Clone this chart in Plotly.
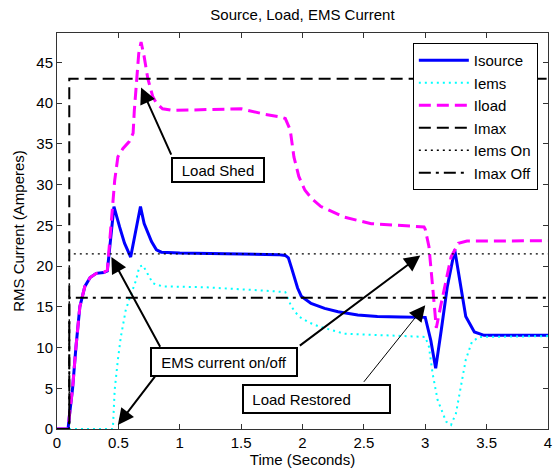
import plotly.graph_objects as go

# ---------------- data ----------------
t_source = [0, 0.09, 0.10, 0.127, 0.154, 0.186, 0.227, 0.27, 0.32, 0.38, 0.41, 0.43, 0.464,
            0.51, 0.55, 0.60, 0.63, 0.66, 0.68, 0.71, 0.77, 0.81, 0.85, 1.0, 1.5, 1.8, 1.86,
            1.885, 1.91, 1.93, 1.96, 1.99, 2.07, 2.18, 2.29, 2.45, 2.61, 2.8, 3.0, 3.045,
            3.085, 3.13, 3.18, 3.24, 3.29, 3.33, 3.40, 3.48, 3.6, 4.0]
i_source = [0, 0, 1.5, 5, 10, 15, 17.5, 18.6, 19.1, 19.2, 19.4, 22.5, 27.3,
            24.8, 22.8, 21.1, 23.6, 26.0, 27.3, 25.2, 23.0, 22.0, 21.7, 21.6, 21.5, 21.4, 21.3,
            21.0, 19.8, 18.7, 17.3, 16.3, 15.4, 14.8, 14.4, 14.0, 13.8, 13.75, 13.7, 10.9,
            7.45, 12.1, 17.5, 22.0, 17.5, 13.8, 11.9, 11.5, 11.5, 11.5]

t_ems = [0, 0.455, 0.47, 0.483, 0.496, 0.52, 0.56, 0.60, 0.645, 0.67, 0.70, 0.74, 0.78,
         0.86, 1.2, 1.67, 1.86, 1.91, 1.97, 2.05, 2.13, 2.34, 2.61, 2.8, 3.0, 3.03, 3.06,
         3.10, 3.17, 3.21, 3.25, 3.29, 3.33, 3.38, 3.44, 4.0]
i_ems = [0, 0, 4.8, 7.2, 8.5, 11.3, 14.6, 16.4, 18.3, 19.9, 20.1, 19.0, 17.9,
         17.5, 17.4, 17.0, 16.8, 15.0, 13.8, 13.1, 12.6, 11.7, 11.5, 11.4, 11.3, 10.1, 6.8,
         3.6, 0.9, 0.5, 1.9, 5.2, 8.5, 10.7, 11.3, 11.4]

t_load = [0, 0.09, 0.10, 0.127, 0.154, 0.186, 0.227, 0.27, 0.32, 0.38, 0.41, 0.43, 0.447,
          0.47, 0.496, 0.536, 0.59, 0.62, 0.63, 0.645, 0.666, 0.685, 0.71, 0.74, 0.78, 0.81,
          0.86, 0.94, 1.2, 1.5, 1.70, 1.82, 1.86, 1.90, 1.93, 1.97, 2.02, 2.08, 2.15, 2.34,
          2.56, 2.8, 2.99, 3.0, 3.03, 3.06, 3.09, 3.13, 3.21, 3.27, 3.34, 4.0]
i_load = [0, 0, 1.5, 5, 10, 15, 17.5, 18.6, 19.1, 19.2, 19.5, 23.2, 26.5,
          30.5, 33.4, 34.4, 35.3, 36.3, 39.1, 42.4, 46.1, 47.5, 45.7, 43.0, 40.8, 40.0,
          39.3, 39.1, 39.2, 39.3, 38.6, 38.3, 38.1, 36.7, 33.4, 31.0, 29.3, 28.2, 27.3, 26.0,
          25.2, 25.0, 24.8, 24.5, 22.4, 17.5, 12.4, 15.4, 21.1, 22.8, 23.07, 23.1]

t_step = [0, 0.1, 0.1, 4.0]
i_max = [0, 0, 43, 43]
i_ems_on = [0, 0, 21.5, 21.5]
i_max_off = [0, 0, 16.1, 16.1]

x_ticks = [0, 0.5, 1, 1.5, 2, 2.5, 3, 3.5, 4]
x_tick_labels = ["0", "0.5", "1", "1.5", "2", "2.5", "3", "3.5", "4"]
y_ticks = [0, 5, 10, 15, 20, 25, 30, 35, 40, 45]

FONT = "Liberation Sans, Arial, sans-serif"

fig = go.Figure()
fig.add_trace(go.Scatter(x=t_source, y=i_source, mode="lines", name="Isource",
                         line=dict(color="#0000FF", width=3)))
fig.add_trace(go.Scatter(x=t_ems, y=i_ems, mode="lines", name="Iems",
                         line=dict(color="#00FFFF", width=2, dash="2px,4px")))
fig.add_trace(go.Scatter(x=t_load, y=i_load, mode="lines", name="Iload",
                         line=dict(color="#FF00FF", width=3, dash="12px,6px")))
fig.add_trace(go.Scatter(x=t_step, y=i_max, mode="lines", name="Imax",
                         line=dict(color="black", width=2, dash="12px,6px")))
fig.add_trace(go.Scatter(x=t_step, y=i_ems_on, mode="lines", name="Iems On",
                         line=dict(color="black", width=1.3, dash="2px,4px")))
fig.add_trace(go.Scatter(x=t_step, y=i_max_off, mode="lines", name="Imax Off",
                         line=dict(color="black", width=2, dash="12px,5px,3px,5px")))

# text boxes
box_common = dict(xref="x", yref="y", showarrow=False, bgcolor="white",
                  bordercolor="black", borderwidth=2, borderpad=0,
                  font=dict(family=FONT, size=15, color="black"))
fig.add_annotation(x=1.308, y=31.8, text="Load Shed", width=90, height=22,
                   align="center", **box_common)
fig.add_annotation(x=1.363, y=8.2, text="EMS current on/off", width=144, height=26,
                   align="center", **box_common)
fig.add_annotation(x=2.118, y=3.7, text="&nbsp;&nbsp;Load Restored", width=145, height=26,
                   align="left", **box_common)

# arrows
arrow_common = dict(xref="x", yref="y", axref="x", ayref="y", text="", showarrow=True,
                    arrowcolor="black", arrowhead=2, standoff=0, startstandoff=0)
fig.add_annotation(x=0.685, y=41.9, ax=0.936, ay=33.5, arrowwidth=2, arrowsize=1.6, **arrow_common)
fig.add_annotation(x=0.443, y=21.1, ax=0.847, ay=9.9, arrowwidth=2, arrowsize=1.6, **arrow_common)
fig.add_annotation(x=0.496, y=0.5, ax=0.807, ay=6.6, arrowwidth=2, arrowsize=1.6, **arrow_common)
fig.add_annotation(x=2.96, y=21.3, ax=1.966, ay=10.1, arrowwidth=2, arrowsize=1.6, **arrow_common)
fig.add_annotation(x=3.0, y=15.2, ax=2.49, ay=5.6, arrowwidth=1, arrowsize=3.2, **arrow_common)

axis_common = dict(showgrid=False, zeroline=False, showline=True, linecolor="#333333",
                   linewidth=1, mirror="ticks", ticks="inside", ticklen=5, tickcolor="#333333",
                   ticklabeloverflow="allow", automargin=False,
                   tickfont=dict(family=FONT, size=15, color="black"))

fig.update_layout(
    width=553, height=474,
    margin=dict(l=57, r=5, t=33, b=45),
    paper_bgcolor="white", plot_bgcolor="white",
    font=dict(family=FONT, size=15, color="black"),
    title=dict(text="Source, Load, EMS Current", x=0.5, xref="paper", xanchor="center",
               y=1 - 15 / 474, yref="container", yanchor="middle",
               font=dict(family=FONT, size=15, color="black")),
    xaxis=dict(range=[0, 4], tickvals=x_ticks, ticktext=x_tick_labels,
               title=dict(text="Time (Seconds)", standoff=4, font=dict(family=FONT, size=15)),
               **axis_common),
    yaxis=dict(range=[0, 48.6], tickvals=y_ticks,
               title=dict(text="RMS Current (Amperes)", standoff=8, font=dict(family=FONT, size=15)),
               **axis_common),
    legend=dict(x=0.7247, y=0.9747, xanchor="left", yanchor="top",
                bgcolor="white", bordercolor="black", borderwidth=1,
                font=dict(family=FONT, size=15, color="black"), itemwidth=50),
    showlegend=True,
)

fig.write_html("out.html")
